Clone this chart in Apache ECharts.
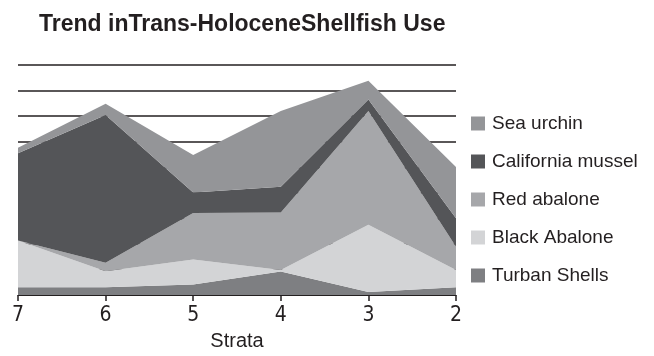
<!DOCTYPE html>
<html>
<head>
<meta charset="utf-8">
<script src="https://cdn.jsdelivr.net/npm/echarts@6/dist/echarts.min.js"></script>
<style>
  html, body { margin: 0; padding: 0; background: #fff; }
  #chart { width: 654px; height: 356px; }
</style>
</head>
<body>
<div id="chart"></div>
<script>
// Strata, oldest (7) to youngest (2)
const strata = ['7', '6', '5', '4', '3', '2'];

// Stacked shares per shellfish taxon, bottom layer first
const turbanShells     = [3.1, 3.1, 4.1, 9.2, 1.2, 3.1];
const blackAbalone     = [18.3, 6.2, 9.8, 0.6, 26.3, 6.7];
const redAbalone       = [0.0, 3.4, 18.2, 22.5, 44.5, 9.1];
const californiaMussel = [34.1, 57.7, 8.0, 10.1, 4.5, 11.2];
const seaUrchin        = [2.1, 4.4, 14.7, 29.6, 7.3, 20.0];

const layers = [
  { name: 'Turban Shells',     data: turbanShells,     color: '#7e7f82' },
  { name: 'Black Abalone',     data: blackAbalone,     color: '#d3d4d6' },
  { name: 'Red abalone',       data: redAbalone,       color: '#a6a7aa' },
  { name: 'California mussel', data: californiaMussel, color: '#545558' },
  { name: 'Sea urchin',        data: seaUrchin,        color: '#949598' }
];

const chart = echarts.init(document.getElementById('chart'), null, { renderer: 'canvas' });

chart.setOption({
  animation: false,
  backgroundColor: '#ffffff',
  textStyle: { fontFamily: 'Liberation Sans, Arial, sans-serif' },
  title: {
    text: 'Trend inTrans-HoloceneShellfish Use',
    left: 34,
    top: 8,
    padding: 5,
    textStyle: {
      fontSize: 23,
      fontWeight: 'bold',
      color: '#231f20',
      fontFamily: 'Liberation Sans, Arial, sans-serif'
    }
  },
  legend: {
    orient: 'vertical',
    left: 471,
    top: 114,
    padding: 0,
    itemWidth: 14,
    itemHeight: 14,
    itemGap: 19,
    icon: 'rect',
    data: layers.map(l => l.name).reverse(),
    textStyle: { fontSize: 19, lineHeight: 19, color: '#231f20', padding: [0, 0, 0, 2] }
  },
  grid: { left: 18, right: 198, top: 65, bottom: 58 },
  xAxis: {
    type: 'category',
    data: strata,
    boundaryGap: false,
    name: 'Strata',
    nameLocation: 'middle',
    nameGap: 26,
    nameTextStyle: { fontSize: 20, color: '#231f20' },
    axisLine: { show: true, lineStyle: { color: '#231f20', width: 1 } },
    axisTick: { show: true, length: 6, lineStyle: { color: '#231f20', width: 1.5 } },
    axisLabel: {
      fontSize: 21,
      margin: 10,
      color: '#231f20',
      fontFamily: 'Liberation Sans Narrow, DejaVu Sans Condensed, sans-serif'
    }
  },
  yAxis: {
    type: 'value',
    min: 0,
    max: 90,
    interval: 10,
    axisLabel: { show: false },
    axisLine: { show: false },
    axisTick: { show: false },
    splitLine: { show: true, lineStyle: { color: '#231f20', width: 1.5 } }
  },
  series: layers.map(l => ({
    name: l.name,
    type: 'line',
    stack: 'total',
    data: l.data,
    symbol: 'none',
    color: l.color,
    lineStyle: { width: 0 },
    areaStyle: { color: l.color, opacity: 1 }
  }))
});
</script>
</body>
</html>
